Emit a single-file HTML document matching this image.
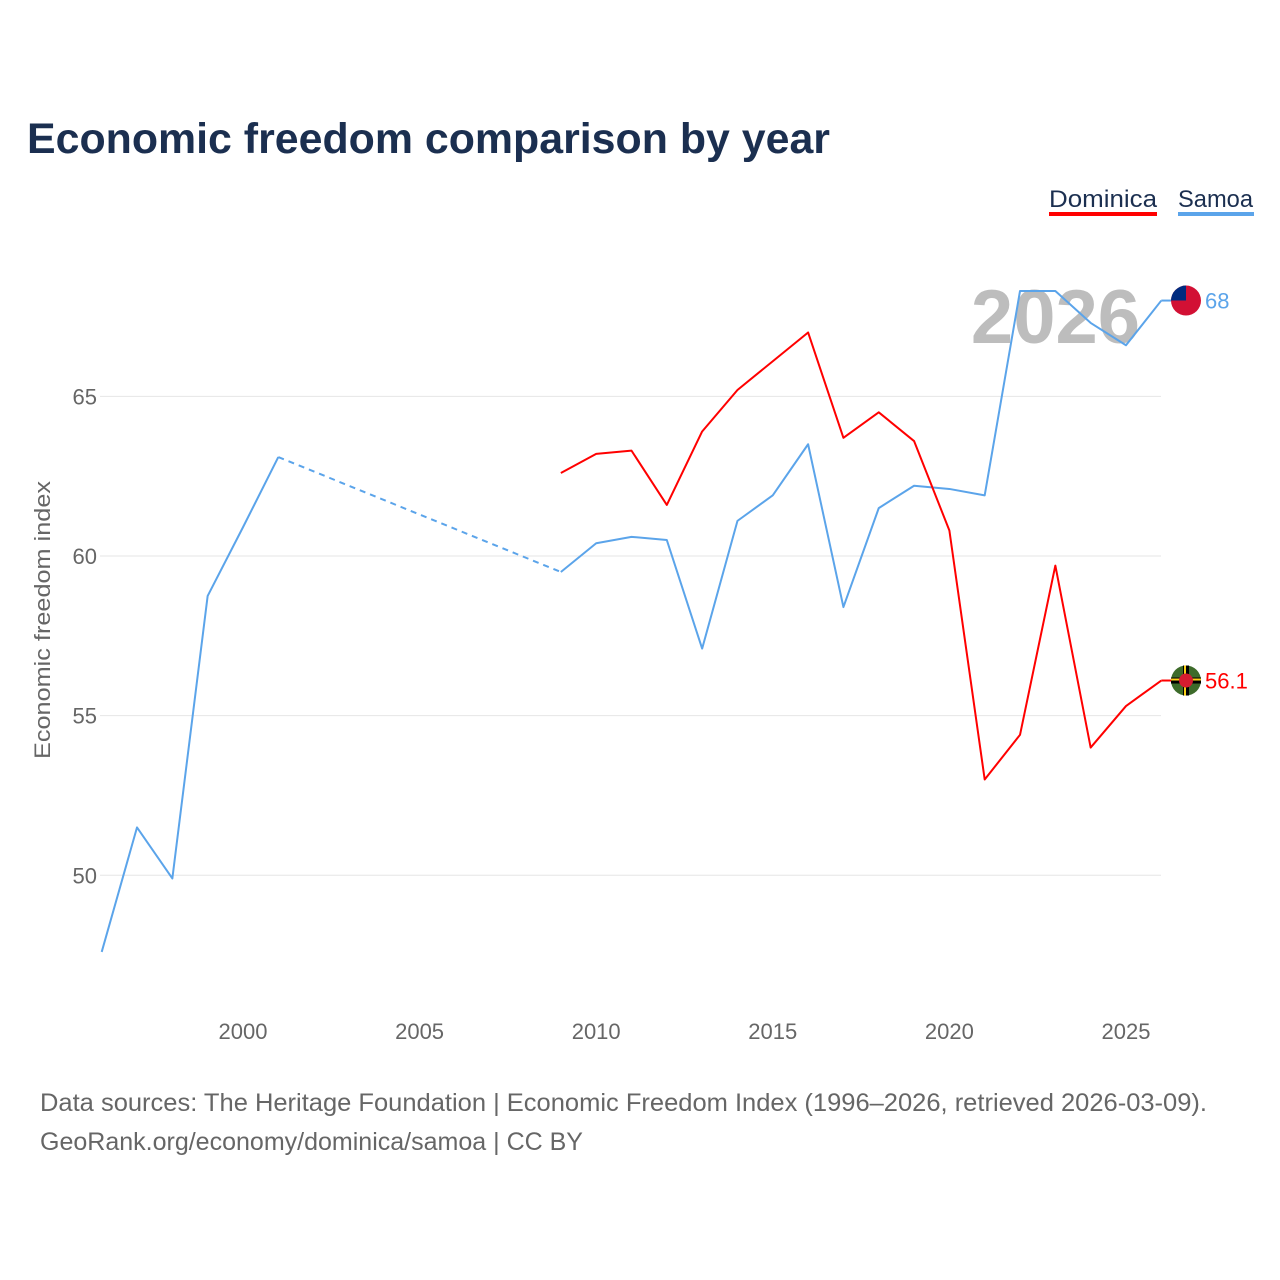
<!DOCTYPE html>
<html><head><meta charset="utf-8"><style>
body{margin:0;width:1280px;height:1280px;background:#fff;font-family:"Liberation Sans",sans-serif;overflow:hidden}
svg{position:absolute;left:0;top:0}
</style></head><body>
<svg width="1280" height="1280" id="chart">
<text x="27" y="153" font-size="43" font-weight="bold" fill="#1b2f50" textLength="803" lengthAdjust="spacingAndGlyphs">Economic freedom comparison by year</text>
<g>
<text x="1049" y="207" font-size="24" fill="#1b2f50" textLength="108" lengthAdjust="spacingAndGlyphs">Dominica</text>
<rect x="1049" y="212" width="108" height="4" fill="#ff0000"/>
<text x="1178" y="207" font-size="24" fill="#1b2f50" textLength="75" lengthAdjust="spacingAndGlyphs">Samoa</text>
<rect x="1178" y="212" width="76" height="4" fill="#5ba4ea"/>
</g>
<text x="1140" y="343" font-size="76" font-weight="bold" fill="#bdbdbd" text-anchor="end">2026</text>
<text transform="translate(50,620) rotate(-90)" font-size="22" fill="#666" text-anchor="middle" textLength="278" lengthAdjust="spacingAndGlyphs">Economic freedom index</text>
<g id="grid"></g><g id="xt"></g><g id="series"></g>
<text x="40" y="1111" font-size="25" fill="#666" textLength="1167" lengthAdjust="spacingAndGlyphs">Data sources: The Heritage Foundation | Economic Freedom Index (1996–2026, retrieved 2026-03-09).</text>
<text x="40" y="1150" font-size="25" fill="#666" textLength="543" lengthAdjust="spacingAndGlyphs">GeoRank.org/economy/dominica/samoa | CC BY</text>
</svg>
<script>
const yTicks=[50,55,60,65];
const xTicks=[2000,2005,2010,2015,2020,2025];
const samoaYears=[1996,1997,1998,1999,2000,2001,2009,2010,2011,2012,2013,2014,2015,2016,2017,2018,2019,2020,2021,2022,2023,2024,2025,2026];
const samoaVals=[47.6,51.5,49.9,58.75,60.9,63.1,59.5,60.4,60.6,60.5,57.1,61.1,61.9,63.5,58.4,61.5,62.2,62.1,61.9,68.3,68.3,67.3,66.6,68.0];
const domYears=[2009,2010,2011,2012,2013,2014,2015,2016,2017,2018,2019,2020,2021,2022,2023,2024,2025,2026];
const domVals=[62.6,63.2,63.3,61.6,63.9,65.2,66.1,67.0,63.7,64.5,63.6,60.8,53.0,54.4,59.7,54.0,55.3,56.1];
const NS='http://www.w3.org/2000/svg';
const X=y=>101.7+(y-1996)*35.32;
const Y=v=>556-(v-60)*31.93;
function mk(t,a,p){const e=document.createElementNS(NS,t);for(const k in a)e.setAttribute(k,a[k]);p.appendChild(e);return e;}
const grid=document.getElementById('grid');
yTicks.forEach(v=>{
 const l=mk('line',{x1:100,x2:1161,y1:Y(v),y2:Y(v),stroke:'#e6e6e6','stroke-width':1},grid);
 
 
 const t=mk('text',{x:97,y:Y(v)+8,'font-size':22,fill:'#666','text-anchor':'end'},grid);t.textContent=v;
 
 
});
const xt=document.getElementById('xt');
xTicks.forEach(v=>{
 const t=mk('text',{x:X(v),y:1039,'font-size':22,fill:'#666','text-anchor':'middle'},xt);t.textContent=v;
 
 
});
const S=document.getElementById('series');
function draw(years,vals,color,name){
 let d='';
 for(let i=0;i<years.length;i++){
  const gap=i>0&&years[i]-years[i-1]>1;
  if(gap){
   const dl=mk('line',{x1:X(years[i-1]),y1:Y(vals[i-1]),x2:X(years[i]),y2:Y(vals[i]),stroke:color,'stroke-width':2,'stroke-dasharray':'6,5'},S);
   
   
  }
  d+=(i===0||gap?'M':'L')+X(years[i])+','+Y(vals[i])+' ';
 }
 const p=mk('path',{d:d,fill:'none',stroke:color,'stroke-width':2,'stroke-linejoin':'round'},S);
 
 
 const lv=vals[vals.length-1],lx=X(years[years.length-1]);
 mk('line',{x1:lx,y1:Y(lv),x2:1172,y2:Y(lv),stroke:color,'stroke-width':2},S);
 return [lv,Y(lv)];
}
const [sv,sy]=draw(samoaYears,samoaVals,'#5ba4ea','samoa');
const [dv,dy]=draw(domYears,domVals,'#ff0000','dominica');
let g=mk('g',{},S);
mk('circle',{cx:1186,cy:sy,r:15,fill:'#d21034'},g);
mk('path',{d:`M1171,${sy} A15,15 0 0 1 1186,${sy-15} L1186,${sy} Z`,fill:'#002b7f'},g);
let t=mk('text',{x:1205,y:sy+8,'font-size':22,fill:'#5ba4ea'},S);t.textContent=sv.toFixed(0);


g=mk('g',{},S);
mk('circle',{cx:1186,cy:dy,r:15,fill:'#3d6b2a'},g);
mk('rect',{x:1171,y:dy-3,width:30,height:6,fill:'#000'},g);
mk('rect',{x:1171,y:dy-2,width:30,height:2,fill:'#fcd116'},g);
mk('rect',{x:1183,y:dy-15,width:6,height:30,fill:'#000'},g);
mk('rect',{x:1184,y:dy-15,width:2,height:30,fill:'#fcd116'},g);
mk('circle',{cx:1186,cy:dy,r:7,fill:'#d41c30'},g);
t=mk('text',{x:1205,y:dy+8,'font-size':22,fill:'#ff0000'},S);t.textContent=dv.toFixed(1);


</script>
</body></html>
